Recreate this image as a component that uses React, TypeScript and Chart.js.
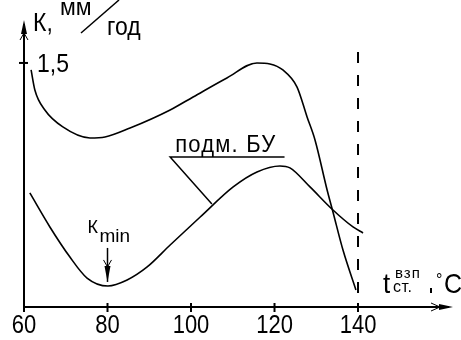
import React, { useEffect, useRef } from "react";
import { Chart, registerables } from "chart.js";

Chart.register(...registerables);

// Axis ticks
const xTicks = [60, 80, 100, 120, 140];
const xTickLabels = ["60", "80", "100", "120", "140"];
const yTicks = [1.5];
const yTickLabels = ["1,5"];

// Upper curve (без БУ)
const upperX = [61.7, 62.6, 65.0, 69.3, 75.8, 79.4, 85.4, 95.0, 100.5, 108.6, 115.8, 118.9, 122.0, 125.4, 127.8, 129.7, 132.6, 134.0, 136.4, 139.5];
const upperY = [1.457, 1.334, 1.211, 1.107, 1.039, 1.045, 1.1, 1.211, 1.291, 1.408, 1.5, 1.494, 1.457, 1.352, 1.168, 1.027, 0.719, 0.584, 0.35, 0.105];

// Lower curve (подм. БУ)
const lowerX = [61.4, 66.2, 71.0, 75.1, 80.1, 84.7, 89.5, 95.0, 102.2, 110.1, 115.8, 121.3, 123.7, 128.5, 134.0, 138.8, 141.2];
const lowerY = [0.701, 0.492, 0.307, 0.178, 0.129, 0.166, 0.246, 0.381, 0.553, 0.738, 0.83, 0.867, 0.855, 0.738, 0.596, 0.492, 0.455];

// Vertical dashed limit at 140
const limitX = [140, 140];
const limitY = [0.086, 1.61];

// Callout for "подм. БУ"
const calloutX = [122.4, 95.0, 105.0];
const calloutY = [0.922, 0.922, 0.633];
const calloutLabel = "подм. БУ";

// k_min marker
const kminX = 80;
const kminArrowY = [0.363, 0.154];

const X_MIN = 60;
const X_MAX = 162.75;
const Y_MIN = 0;
const Y_MAX = 1.764;

const FONT = "'Liberation Sans', Arial, sans-serif";

function pts(xs: number[], ys: number[]) {
  return xs.map((x, i) => ({ x, y: ys[i] }));
}

function txt(
  ctx: CanvasRenderingContext2D,
  s: string,
  x: number,
  y: number,
  size: number,
  sy = 1,
  align: CanvasTextAlign = "left",
  spacing = 0
) {
  ctx.save();
  ctx.translate(x, y);
  ctx.scale(1, sy);
  ctx.font = `${size}px ${FONT}`;
  ctx.textAlign = align;
  ctx.textBaseline = "alphabetic";
  (ctx as any).letterSpacing = `${spacing}px`;
  ctx.fillStyle = "#000";
  ctx.fillText(s, 0, 0);
  ctx.restore();
}

const axesPlugin = {
  id: "handAxes",
  afterDatasetsDraw(chart: any) {
    const ctx: CanvasRenderingContext2D = chart.ctx;
    const xs = chart.scales.x;
    const ys = chart.scales.y;
    const left = xs.getPixelForValue(X_MIN);
    const right = xs.getPixelForValue(X_MAX);
    const bottom = ys.getPixelForValue(Y_MIN);
    const top = ys.getPixelForValue(Y_MAX);
    ctx.save();
    ctx.strokeStyle = "#000";
    ctx.fillStyle = "#000";
    ctx.lineWidth = 2;
    // axes
    ctx.beginPath();
    ctx.moveTo(left, top + 4);
    ctx.lineTo(left, bottom);
    ctx.lineTo(right - 4, bottom);
    ctx.stroke();
    // y arrow
    ctx.beginPath();
    ctx.moveTo(left, top);
    ctx.lineTo(left - 3, top + 14);
    ctx.lineTo(left + 3, top + 14);
    ctx.closePath();
    ctx.fill();
    ctx.lineWidth = 1;
    ctx.beginPath();
    ctx.moveTo(left - 4, top + 20);
    ctx.lineTo(left, top + 13);
    ctx.lineTo(left + 4, top + 20);
    ctx.stroke();
    // x arrow
    ctx.beginPath();
    ctx.moveTo(right, bottom);
    ctx.lineTo(right - 14, bottom - 3);
    ctx.lineTo(right - 14, bottom + 3);
    ctx.closePath();
    ctx.fill();
    ctx.beginPath();
    ctx.moveTo(right - 22, bottom - 4);
    ctx.lineTo(right - 13, bottom);
    ctx.lineTo(right - 22, bottom + 4);
    ctx.stroke();
    // x ticks
    ctx.lineWidth = 2;
    xTicks.forEach((v, i) => {
      const px = xs.getPixelForValue(v);
      ctx.beginPath();
      ctx.moveTo(px, bottom - 4);
      ctx.lineTo(px, bottom + 5);
      ctx.stroke();
      txt(ctx, xTickLabels[i], px, bottom + 26, 22, 1.2, "center");
    });
    // y ticks
    yTicks.forEach((v, i) => {
      const py = ys.getPixelForValue(v);
      ctx.beginPath();
      ctx.moveTo(left - 5, py);
      ctx.lineTo(left + 4, py);
      ctx.stroke();
      txt(ctx, yTickLabels[i], left + 13, py + 9, 23, 1.15, "left");
    });
    // y axis title: к, мм/год
    txt(ctx, "К,", left + 9, top + 11, 23, 1.1, "left");
    txt(ctx, "мм", left + 36, top - 5, 23, 1.05, "left");
    ctx.lineWidth = 1.5;
    ctx.beginPath();
    ctx.moveTo(left + 57, top + 13);
    ctx.lineTo(left + 95, top - 20);
    ctx.stroke();
    txt(ctx, "год", left + 83, top + 15, 23, 1.1, "left");
    // x axis title: t ст. взп, °C
    txt(ctx, "t", 383, bottom - 14, 26, 1.05, "left");
    txt(ctx, "взп", 395, bottom - 29, 15, 1.0, "left", 1);
    txt(ctx, "ст.", 393, bottom - 15, 16, 1.0, "left", 0.5);
    ctx.fillRect(430, bottom - 19, 2, 5);
    txt(ctx, "°", 436, bottom - 22, 16, 1.0, "left");
    txt(ctx, "C", 444, bottom - 14, 25, 1.1, "left");

    // callout label
    const cx = xs.getPixelForValue(calloutX[1]);
    const cy = ys.getPixelForValue(calloutY[1]);
    txt(ctx, calloutLabel, cx + 5, cy - 5, 22, 1.05, "left", 1.2);

    // k_min arrow and label
    const kx = xs.getPixelForValue(kminX);
    const ky0 = ys.getPixelForValue(kminArrowY[0]);
    const ky1 = ys.getPixelForValue(kminArrowY[1]);
    ctx.lineWidth = 1.5;
    ctx.beginPath();
    ctx.moveTo(kx, ky0);
    ctx.lineTo(kx, ky1);
    ctx.stroke();
    ctx.beginPath();
    ctx.moveTo(kx, ky1);
    ctx.lineTo(kx - 3, ky1 - 16);
    ctx.lineTo(kx + 3, ky1 - 16);
    ctx.closePath();
    ctx.fill();
    ctx.lineWidth = 1;
    ctx.beginPath();
    ctx.moveTo(kx - 4, ky1 - 22);
    ctx.lineTo(kx, ky1 - 15);
    ctx.lineTo(kx + 4, ky1 - 22);
    ctx.stroke();
    txt(ctx, "К", kx - 20, ky0 - 15, 18, 1.0, "left");
    txt(ctx, "min", kx - 8, ky0 - 6, 19, 1.0, "left");
    ctx.restore();
  },
};

export default function App() {
  const ref = useRef<HTMLCanvasElement>(null);
  useEffect(() => {
    if (!ref.current) return;
    const lineStyle = {
      borderColor: "#000",
      borderWidth: 1.6,
      pointRadius: 0,
      fill: false,
      showLine: true,
    };
    const chart = new Chart(ref.current, {
      type: "line",
      data: {
        datasets: [
          { ...lineStyle, label: "upper", data: pts(upperX, upperY), cubicInterpolationMode: "monotone" } as any,
          { ...lineStyle, label: "lower", data: pts(lowerX, lowerY), cubicInterpolationMode: "monotone" } as any,
          { ...lineStyle, label: "limit", data: pts(limitX, limitY), borderWidth: 2, borderDash: [11, 12], tension: 0 } as any,
          { ...lineStyle, label: "callout", data: pts(calloutX, calloutY), borderWidth: 1.5, tension: 0 } as any,
        ],
      },
      options: {
        responsive: false,
        animation: false,
        devicePixelRatio: 1,
        layout: { padding: { left: 24, top: 20, right: 8, bottom: 33 } },
        plugins: { legend: { display: false }, tooltip: { enabled: false } },
        scales: {
          x: { type: "linear", min: X_MIN, max: X_MAX, display: false },
          y: { type: "linear", min: Y_MIN, max: Y_MAX, display: false },
        },
        elements: { line: { borderCapStyle: "butt" } },
      },
      plugins: [axesPlugin],
    });
    return () => chart.destroy();
  }, []);
  return (
    <div style={{ position: "absolute", left: 0, top: 0, width: 461, height: 340, background: "#fff" }}>
      <canvas ref={ref} width={461} height={340} />
    </div>
  );
}
